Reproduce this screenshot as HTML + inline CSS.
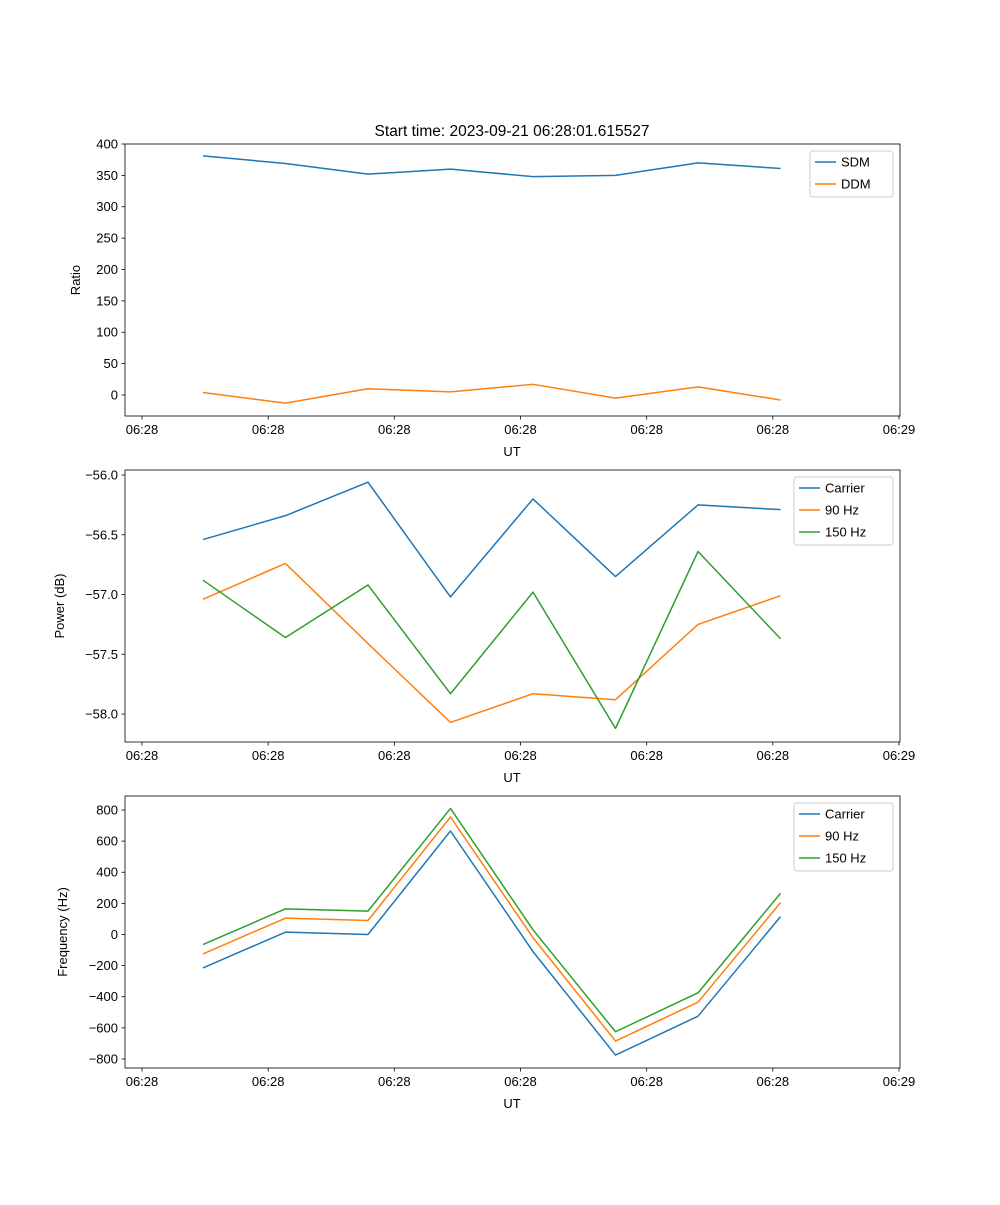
<!DOCTYPE html>
<html><head><meta charset="utf-8"><style>
body{margin:0;background:#fff;}
svg{font-family:"Liberation Sans","DejaVu Sans",sans-serif;}
</style></head><body>
<svg id="fig" width="1000" height="1200" xmlns="http://www.w3.org/2000/svg">
<text x="512" y="136" font-size="15.5" text-anchor="middle">Start time: 2023-09-21 06:28:01.615527</text>
</svg>
<script>
const times = [4.83, 11.37, 17.91, 24.45, 30.99, 37.53, 44.07, 50.61];
const xTickVals = [0, 10, 20, 30, 40, 50, 60];
const xTickLabels = ["06:28","06:28","06:28","06:28","06:28","06:28","06:29"];
const sdm = [381, 369, 352, 360, 348, 350, 370, 361];
const ddm = [4, -13, 10, 5, 17, -5, 13, -8];
const powCarrier = [-56.54, -56.34, -56.06, -57.02, -56.20, -56.85, -56.25, -56.29];
const pow90 = [-57.04, -56.74, -57.41, -58.07, -57.83, -57.88, -57.25, -57.01];
const pow150 = [-56.88, -57.36, -56.92, -57.83, -56.98, -58.12, -56.64, -57.37];
const frqCarrier = [-215, 15, 0, 665, -110, -775, -525, 115];
const frq90 = [-125, 105, 90, 755, -20, -685, -435, 205];
const frq150 = [-65, 165, 150, 810, 30, -625, -375, 265];
const yTicks1 = [0, 50, 100, 150, 200, 250, 300, 350, 400];
const yTicks2 = [-58.0, -57.5, -57.0, -56.5, -56.0];
const yTicks3 = [-800, -600, -400, -200, 0, 200, 400, 600, 800];

const NS = "http://www.w3.org/2000/svg";
const svg = document.getElementById('fig');
function mk(tag, attrs, parent){const e=document.createElementNS(NS,tag);for(const k in attrs)e.setAttribute(k,attrs[k]);(parent||svg).appendChild(e);return e;}
const X0=125, X1=900;
function xs(t){return 142 + t*(899-142)/60;}

function panel(name, top, ymin, ymax, yticks, fmt, ylabel, series, legend){
  const bot = top+272;
  const g = mk('g',{});
  
  
  const ys = v => bot - (v-ymin)/(ymax-ymin)*272;
  series.forEach(s=>{
    const p = mk('polyline',{points:s.vals.map((v,i)=>xs(times[i])+','+ys(v)).join(' '),fill:'none',stroke:s.color,'stroke-width':1.5,'stroke-linejoin':'round'},g);
    
    
  });
  const fr = mk('rect',{x:X0,y:top,width:X1-X0,height:272,fill:'none',stroke:'#000','stroke-width':0.8},g);
  
  
  xTickVals.forEach((t,i)=>{
    const x=xs(t);
    mk('line',{x1:x,x2:x,y1:bot,y2:bot+3.5,stroke:'#000','stroke-width':0.8},g);
    const tl = mk('text',{x:x,y:bot+18,'font-size':13,'text-anchor':'middle'},g);
    tl.textContent = xTickLabels[i];
    
    
  });
  yticks.forEach(v=>{
    const y=ys(v);
    mk('line',{x1:X0-3.5,x2:X0,y1:y,y2:y,stroke:'#000','stroke-width':0.8},g);
    const tl = mk('text',{x:X0-7,y:y+4.5,'font-size':13,'text-anchor':'end'},g);
    tl.textContent = fmt(v);
    
    
  });
  const xl = mk('text',{x:512,y:bot+40,'font-size':13,'text-anchor':'middle'},g);
  xl.textContent='UT';
  
  
  const ylx = legend.ylx;
  const yl = mk('text',{x:ylx,y:top+136,'font-size':13,'text-anchor':'middle',transform:`rotate(-90 ${ylx} ${top+136})`},g);
  yl.textContent=ylabel;
  
  
  const lg = mk('g',{},g);
  
  
  const h = 2+series.length*22;
  mk('rect',{x:legend.x,y:top+7,width:893-legend.x,height:h,fill:'#fff',stroke:'#ccc',rx:3},lg);
  series.forEach((s,i)=>{
    const y=top+18+i*22;
    mk('line',{x1:legend.x+5,x2:legend.x+26,y1:y,y2:y,stroke:s.color,'stroke-width':1.5},lg);
    const t=mk('text',{x:legend.x+31,y:y+4.5,'font-size':13},lg);
    t.textContent=s.label;
    
    
  });
}
panel('ratio',144,-33.5,400,yTicks1,v=>String(v),'Ratio',
  [{key:'sdm',label:'SDM',vals:sdm,color:'#1f77b4'},{key:'ddm',label:'DDM',vals:ddm,color:'#ff7f0e'}],{x:810,ylx:80});
panel('power',470,-58.234,-55.958,yTicks2,v=>'\u2212'+Math.abs(v).toFixed(1),'Power (dB)',
  [{key:'carrier',label:'Carrier',vals:powCarrier,color:'#1f77b4'},{key:'90hz',label:'90 Hz',vals:pow90,color:'#ff7f0e'},{key:'150hz',label:'150 Hz',vals:pow150,color:'#2ca02c'}],{x:794,ylx:64});
panel('frequency',796,-858,890,yTicks3,v=>(v<0?'\u2212':'')+Math.abs(v),'Frequency (Hz)',
  [{key:'carrier',label:'Carrier',vals:frqCarrier,color:'#1f77b4'},{key:'90hz',label:'90 Hz',vals:frq90,color:'#ff7f0e'},{key:'150hz',label:'150 Hz',vals:frq150,color:'#2ca02c'}],{x:794,ylx:67});
</script>
</body></html>
